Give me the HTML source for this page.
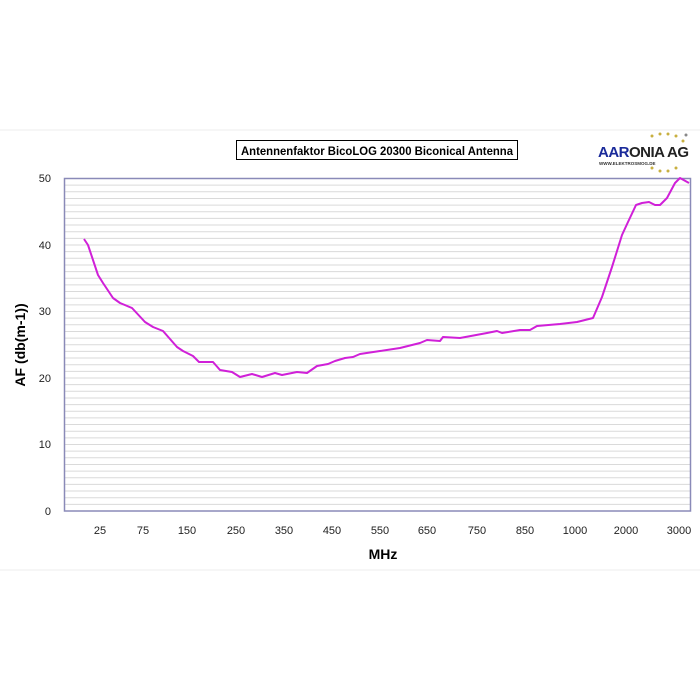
<!DOCTYPE html>
<html><head><meta charset="utf-8"><style>
body{margin:0;background:#fff;}
svg{display:block;font-family:"Liberation Sans",Arial,sans-serif;}
</style></head><body>
<svg width="700" height="700" viewBox="0 0 700 700">
<rect x="0" y="0" width="700" height="700" fill="#fff"/>
<line x1="0" y1="130" x2="700" y2="130" stroke="#eee"/>
<line x1="0" y1="570" x2="700" y2="570" stroke="#eee"/>
<g id="grid" stroke="#dadada" stroke-width="1">
</g>
<rect x="64.5" y="178.5" width="626" height="332.5" fill="none" stroke="#8a8ab8" stroke-width="1.5"/>
<g font-size="11" fill="#222" text-anchor="end">
<text x="51" y="182">50</text><text x="51" y="249">40</text><text x="51" y="315">30</text>
<text x="51" y="382">20</text><text x="51" y="448">10</text><text x="51" y="515">0</text>
</g>
<g font-size="11" fill="#222" text-anchor="middle">
<text x="100" y="534">25</text><text x="143" y="534">75</text><text x="187" y="534">150</text>
<text x="236" y="534">250</text><text x="284" y="534">350</text><text x="332" y="534">450</text>
<text x="380" y="534">550</text><text x="427" y="534">650</text><text x="477" y="534">750</text>
<text x="525" y="534">850</text><text x="575" y="534">1000</text><text x="626" y="534">2000</text>
<text x="679" y="534">3000</text>
</g>
<text x="383" y="559" font-size="14" font-weight="bold" text-anchor="middle">MHz</text>
<text transform="translate(25,345) rotate(-90)" font-size="14" font-weight="bold" text-anchor="middle">AF (db(m-1))</text>
<rect x="236.5" y="140.5" width="281" height="19" fill="#fff" stroke="#000" stroke-width="1"/>
<text x="241" y="155" font-size="12" font-weight="bold" textLength="272" lengthAdjust="spacingAndGlyphs">Antennenfaktor BicoLOG 20300 Biconical Antenna</text>
<text x="598" y="157" font-size="15" font-weight="bold" fill="#1a2a9a" letter-spacing="-0.5">AAR<tspan fill="#222">ONIA AG</tspan></text>
<text x="599" y="165" font-size="4.5" font-weight="bold" fill="#333">WWW.ELEKTROSMOG.DE</text>
<g fill="#c8b040">
<circle cx="652" cy="136" r="1.5"/><circle cx="660" cy="134" r="1.5"/><circle cx="668" cy="134" r="1.5"/><circle cx="676" cy="136" r="1.5"/>
<circle cx="683" cy="141" r="1.5"/>
<circle cx="652" cy="168" r="1.5"/><circle cx="660" cy="171" r="1.5"/><circle cx="668" cy="171" r="1.5"/><circle cx="676" cy="168" r="1.5"/>
</g>
<circle cx="686" cy="135" r="1.5" fill="#888"/>
<polyline fill="none" stroke="#d020d8" stroke-width="2" stroke-linejoin="round" points="84,239 88,245 98,275 103,283 113,298 120,303 132,308 145,322 153,327 163,331 177,347 183,351 193,356 199,362 213,362 220,370 232,372 240,377 252,374 262,377 275,373 282,375 297,372 307,373 317,366 328,364 335,361 345,358 353,357 360,354 380,351 400,348 420,343 427,340 440,341 443,337 460,338 487,333 497,331 502,333 520,330 530,330 537,326 560,324 577,322 593,318 602,297 612,267 622,235 628,222 636,205 642,203 649,202 655,205 660,205 667,198 675,183 680,178 689,183"/>
</svg>
<script>
var g=document.getElementById('grid');
for(var i=1;i<50;i++){var y=178.5+i*332.5/50;var l=document.createElementNS('http://www.w3.org/2000/svg','line');
l.setAttribute('x1',65);l.setAttribute('x2',690);l.setAttribute('y1',y);l.setAttribute('y2',y);g.appendChild(l);}
</script>
</body></html>
